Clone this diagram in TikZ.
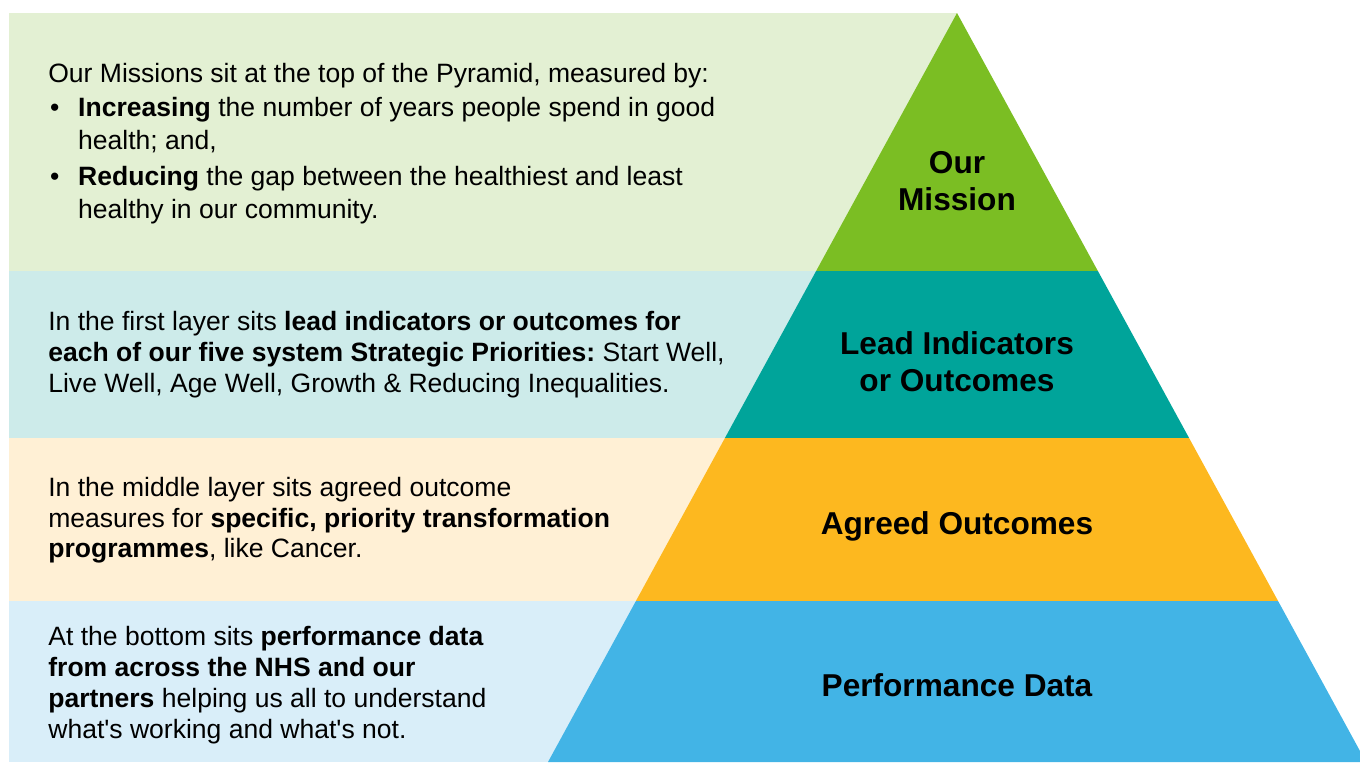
\documentclass[tikz,border=0pt]{standalone}
\usepackage{fontspec}
\setmainfont{Liberation Sans}[Ligatures=TeXOff]
\usepackage{xcolor}

\definecolor{missionGreen}{HTML}{7BBE23}
\definecolor{missionBg}{HTML}{E3F0D3}
\definecolor{leadTeal}{HTML}{00A49A}
\definecolor{leadBg}{HTML}{CDEBEA}
\definecolor{agreedGold}{HTML}{FDB81F}
\definecolor{agreedBg}{HTML}{FFF0D5}
\definecolor{perfBlue}{HTML}{42B4E6}
\definecolor{perfBg}{HTML}{D9EEF9}

\frenchspacing

\begin{document}
\begin{tikzpicture}[x=0.02cm, y=-0.02cm,
  body/.style={anchor=north west, inner sep=0pt, align=left,
    font=\fontsize{15.1}{17.6}\selectfont},
  tier/.style={inner sep=0pt, align=center,
    font=\bfseries\fontsize{18}{21}\selectfont}]

\useasboundingbox (0,0) rectangle (1360,762);

% Bands behind the text
\fill[missionBg] (9,13) rectangle (957,271);
\fill[leadBg] (9,271) rectangle (957,438);
\fill[agreedBg] (9,438) rectangle (957,601);
\fill[perfBg] (9,601) rectangle (957,762);

% Pyramid
\begin{scope}
\clip (957,13) -- (548,762) -- (1366,762) -- cycle;
\fill[missionGreen] (500,0) rectangle (1400,271);
\fill[leadTeal] (500,271) rectangle (1400,438);
\fill[agreedGold] (500,438) rectangle (1400,601);
\fill[perfBlue] (500,601) rectangle (1400,770);
\end{scope}

% Tier labels
\node[tier] (mission) at (957,181) {Our\\Mission};
\node[tier] (lead) at (957,362) {Lead Indicators\\or Outcomes};
\node[tier] (agreed) at (957,526) {Agreed Outcomes};
\node[tier] (perf) at (957,685) {Performance Data};

% Descriptions
\node[body, font=\fontsize{15.1}{18.8}\selectfont] (missiontext) at (48,63)
  {Our Missions sit at the top of the Pyramid, measured by:\\[0.6pt]
   \makebox[17pt][l]{\hspace{1pt}•}\textbf{Increasing} the number of years people spend in good\\
   \hspace*{17pt}health; and,\\[1.6pt]
   \makebox[17pt][l]{\hspace{1pt}•}\textbf{Reducing} the gap between the healthiest and least\\
   \hspace*{17pt}healthy in our community.};

\node[body] (leadtext) at (48,311)
  {In the first layer sits \textbf{lead indicators or outcomes for}\\
   \textbf{each of our five system Strategic Priorities:} Start Well,\\
   Live Well, Age Well, Growth \& Reducing Inequalities.};

\node[body] (agreedtext) at (48,476.5)
  {In the middle layer sits agreed outcome\\
   measures for \textbf{specific, priority transformation}\\
   \textbf{programmes}, like Cancer.};

\node[body] (perftext) at (48,626)
  {At the bottom sits \textbf{performance data}\\
   \textbf{from across the NHS and our}\\
   \textbf{partners} helping us all to understand\\
   what's working and what's not.};

\end{tikzpicture}
\end{document}
